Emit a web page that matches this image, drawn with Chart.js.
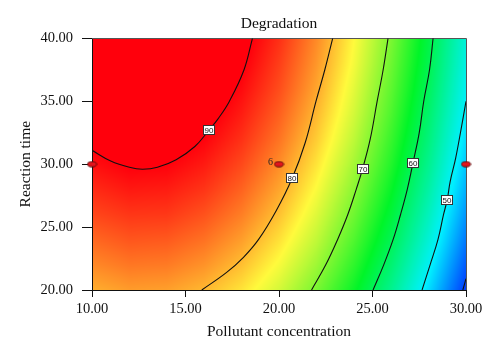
<!DOCTYPE html>
<html><head><meta charset="utf-8">
<script src="https://cdn.jsdelivr.net/npm/chart.js@4/dist/chart.umd.min.js"></script>
<style>html,body{margin:0;padding:0;background:#fff;}</style>
</head><body>
<canvas id="c" width="500" height="359" style="width:500px;height:359px;display:block"></canvas>
<script>
// ---- data ----
const chartTitle = 'Degradation';
const xTitle = 'Pollutant concentration';
const yTitle = 'Reaction time';
const xTicks = [10, 15, 20, 25, 30];
const yTicks = [20, 25, 30, 35, 40];
// response surface grid (rows: reaction time, cols: pollutant concentration)
const gridX = [10, 12, 14, 16, 18, 20, 22, 24, 26, 28, 30];
const gridY = [20, 22, 24, 26, 28, 30, 32, 34, 36, 38, 40];
const degradation = [
  [80.6, 81.6, 81.4, 80.1, 77.7, 74.2, 69.4, 63.6, 56.6, 48.4, 39.2],
  [82.6, 83.6, 83.4, 82.1, 79.7, 76.1, 71.4, 65.5, 58.5, 50.3, 41.0],
  [84.4, 85.4, 85.2, 83.9, 81.5, 77.9, 73.2, 67.3, 60.3, 52.1, 42.8],
  [86.2, 87.1, 87.0, 85.6, 83.2, 79.6, 74.8, 68.9, 61.9, 53.7, 44.4],
  [87.7, 88.7, 88.5, 87.2, 84.7, 81.1, 76.3, 70.4, 63.4, 55.2, 45.9],
  [89.2, 90.2, 90.0, 88.6, 86.1, 82.5, 77.7, 71.8, 64.8, 56.6, 47.2],
  [90.5, 91.5, 91.3, 89.9, 87.4, 83.8, 79.0, 73.1, 66.0, 57.8, 48.4],
  [91.7, 92.6, 92.4, 91.1, 88.5, 84.9, 80.1, 74.2, 67.1, 58.8, 49.5],
  [92.8, 93.7, 93.4, 92.1, 89.5, 85.9, 81.1, 75.1, 68.0, 59.8, 50.4],
  [93.7, 94.6, 94.3, 92.9, 90.4, 86.7, 81.9, 76.0, 68.8, 60.6, 51.2],
  [94.5, 95.3, 95.1, 93.7, 91.1, 87.5, 82.6, 76.6, 69.5, 61.3, 51.9]
];
// contour lines (x, y)
const contour90 = [[10,31.1],[11,30.25],[12,29.75],[12.7,29.6],[13.5,29.75],[14.5,30.35],[15.5,31.4],[16.25,32.7],[16.74,33.6],[17.35,35],[18.13,37.5],[18.58,40]];
const contour80 = [[15.87,20],[17.2,21.4],[18.1,22.6],[18.9,24],[19.85,26.3],[20.71,28.9],[21.4,31.7],[21.98,35],[22.45,37.5],[22.87,40]];
const contour70 = [[21.74,20],[22.5,22],[23.13,24],[23.68,26],[24.13,28],[24.47,29.63],[24.88,32],[25.25,35],[25.57,37.5],[25.83,40]];
const contour60 = [[25.03,20],[25.6,22],[26.1,24],[26.5,26],[26.86,28],[27.17,30.13],[27.5,32.5],[27.74,35],[28.05,37.5],[28.24,40]];
const contour50 = [[27.65,20],[28.08,22],[28.5,24],[28.8,26],[29.0,27.2],[29.15,28.6],[29.45,30.5],[29.8,33.3],[30,35]];
const contour40 = [[29.83,20],[30,20.9]];
const contourLabelText = ['90', '80', '70', '60', '50'];
const contourLabelX = [16.25, 20.71, 24.47, 27.17, 28.98];
const contourLabelY = [32.7, 28.9, 29.63, 30.13, 27.17];
const designX = [10, 20, 30];
const designY = [30, 30, 30];
const designLabel = ['', '6', ''];
// colour map (value stops -> colour)
const colorStops = [36, 49.5, 63, 76.5, 90];
const colorRGB = [[0,0,255],[0,240,255],[0,245,40],[255,250,60],[255,0,12]];

// ---- helpers ----
function valueAt(x, y) {
  const nx = gridX.length, ny = gridY.length;
  let fx = (x - gridX[0]) / (gridX[1] - gridX[0]);
  let fy = (y - gridY[0]) / (gridY[1] - gridY[0]);
  fx = Math.max(0, Math.min(nx - 1.0001, fx));
  fy = Math.max(0, Math.min(ny - 1.0001, fy));
  const i = Math.floor(fx), j = Math.floor(fy), u = fx - i, v = fy - j;
  const a = degradation[j][i], b = degradation[j][i+1], c = degradation[j+1][i], d = degradation[j+1][i+1];
  return a*(1-u)*(1-v) + b*u*(1-v) + c*(1-u)*v + d*u*v;
}
function colorFor(v) {
  if (v <= colorStops[0]) return colorRGB[0];
  const n = colorStops.length;
  if (v >= colorStops[n-1]) return colorRGB[n-1];
  for (let k = 0; k < n - 1; k++) {
    if (v <= colorStops[k+1]) {
      const t = (v - colorStops[k]) / (colorStops[k+1] - colorStops[k]);
      const c0 = colorRGB[k], c1 = colorRGB[k+1];
      return [c0[0]+(c1[0]-c0[0])*t, c0[1]+(c1[1]-c0[1])*t, c0[2]+(c1[2]-c0[2])*t];
    }
  }
  return colorRGB[n-1];
}
const toPts = arr => arr.map(p => ({x: p[0], y: p[1]}));

const heatPlugin = {
  id: 'heat',
  beforeDraw(chart) {
    const {ctx, chartArea: a, scales: {x, y}} = chart;
    const L = Math.floor(a.left), T = Math.floor(a.top), R = Math.ceil(a.right), B = Math.ceil(a.bottom);
    const w = R - L, h = B - T;
    const off = document.createElement('canvas'); off.width = w; off.height = h;
    const octx = off.getContext('2d');
    const img = octx.createImageData(w, h);
    for (let j = 0; j < h; j++) {
      const yv = y.getValueForPixel(T + j + 0.5);
      for (let i = 0; i < w; i++) {
        const xv = x.getValueForPixel(L + i + 0.5);
        const c = colorFor(valueAt(xv, yv));
        const k = (j * w + i) * 4;
        img.data[k] = c[0]; img.data[k+1] = c[1]; img.data[k+2] = c[2]; img.data[k+3] = 255;
      }
    }
    octx.putImageData(img, 0, 0);
    ctx.save();
    ctx.beginPath(); ctx.rect(a.left, a.top, a.right - a.left, a.bottom - a.top); ctx.clip();
    ctx.drawImage(off, L, T);
    ctx.restore();
  }
};
const framePlugin = {
  id: 'frame',
  beforeDatasetsDraw(chart) {
    const {ctx, chartArea: a} = chart;
    ctx.save();
    ctx.strokeStyle = '#555'; ctx.lineWidth = 1;
    ctx.beginPath();
    ctx.moveTo(Math.round(a.left), Math.round(a.top) + 0.5);
    ctx.lineTo(Math.round(a.right) + 0.5, Math.round(a.top) + 0.5);
    ctx.lineTo(Math.round(a.right) + 0.5, Math.round(a.bottom));
    ctx.stroke();
    ctx.restore();
  }
};
const labelPlugin = {
  id: 'labels',
  afterDatasetsDraw(chart) {
    const {ctx, scales: {x, y}} = chart;
    ctx.save();
    ctx.font = '8px "Liberation Sans", Arial, sans-serif';
    ctx.textAlign = 'center'; ctx.textBaseline = 'middle';
    for (let i = 0; i < contourLabelText.length; i++) {
      const px = Math.round(x.getPixelForValue(contourLabelX[i]));
      const py = Math.round(y.getPixelForValue(contourLabelY[i]));
      ctx.fillStyle = '#fff';
      ctx.fillRect(px - 6, py - 5, 12, 10);
      ctx.strokeStyle = '#333'; ctx.lineWidth = 1;
      ctx.strokeRect(px - 6 + 0.5, py - 5 + 0.5, 11, 9);
      ctx.fillStyle = '#111';
      ctx.fillText(contourLabelText[i], px, py + 0.5);
    }
    ctx.font = '10px "Liberation Serif", serif';
    ctx.textAlign = 'right'; ctx.fillStyle = '#222';
    for (let i = 0; i < designX.length; i++) {
      if (!designLabel[i]) continue;
      const px = x.getPixelForValue(designX[i]);
      const py = y.getPixelForValue(designY[i]);
      ctx.fillText(designLabel[i], px - 6, py - 2);
    }
    ctx.restore();
  }
};

// ellipse marker for design points
const marker = document.createElement('canvas');
marker.width = 11; marker.height = 7;
(function () {
  const g = marker.getContext('2d');
  g.beginPath(); g.ellipse(5.5, 3.5, 4.5, 2.6, 0, 0, Math.PI * 2);
  g.fillStyle = '#e3141c'; g.fill();
  g.strokeStyle = '#5a0a0a'; g.lineWidth = 1; g.stroke();
})();

const lineDs = (pts) => ({
  type: 'line', data: toPts(pts), borderColor: '#111', borderWidth: 1.1,
  pointRadius: 0, showLine: true, fill: false, tension: 0.4
});

Chart.defaults.font.family = '"Liberation Serif", "Times New Roman", serif';
Chart.defaults.color = '#111';

new Chart(document.getElementById('c'), {
  type: 'scatter',
  data: {
    datasets: [
      lineDs(contour90), lineDs(contour80), lineDs(contour70), lineDs(contour60), lineDs(contour50), lineDs(contour40),
      { type: 'scatter', data: designX.map((v, i) => ({x: v, y: designY[i]})), pointStyle: marker,
        pointRadius: 5, clip: false, showLine: false }
    ]
  },
  options: {
    responsive: false, animation: false, devicePixelRatio: 1,
    layout: { padding: { top: 6, right: 34, left: 0, bottom: 0 } },
    plugins: {
      legend: { display: false }, tooltip: { enabled: false },
      title: { display: true, text: chartTitle, color: '#111', fullSize: false,
        font: { size: 15.5, weight: 'normal', family: '"Liberation Serif", serif' },
        padding: { top: 8.7, bottom: 5 } }
    },
    scales: {
      x: {
        type: 'linear', min: 10, max: 30, position: 'bottom',
        afterFit: s => { s.height = 69; },
        afterBuildTicks: s => { s.ticks = xTicks.map(v => ({value: v})); },
        ticks: { callback: v => Number(v).toFixed(2), font: { size: 14.5 }, color: '#111', padding: 3, maxRotation: 0 },
        grid: { drawOnChartArea: false, drawTicks: true, tickLength: 7, color: '#111' },
        border: { display: true, color: '#111', width: 1 },
        title: { display: true, text: xTitle, color: '#111', font: { size: 15.5 }, padding: { top: 0, bottom: 18 } }
      },
      y: {
        type: 'linear', min: 20, max: 40, position: 'left',
        afterFit: s => { s.width = 92; },
        afterBuildTicks: s => { s.ticks = yTicks.map(v => ({value: v})); },
        ticks: { callback: v => Number(v).toFixed(2), font: { size: 14.5 }, color: '#111', padding: 9 },
        grid: { drawOnChartArea: false, drawTicks: true, tickLength: 10, color: '#111' },
        border: { display: true, color: '#111', width: 1 },
        title: { display: true, text: yTitle, color: '#111', font: { size: 15.5 }, padding: { top: 17, bottom: 0 } }
      }
    }
  },
  plugins: [heatPlugin, framePlugin, labelPlugin]
});
</script>
</body></html>
